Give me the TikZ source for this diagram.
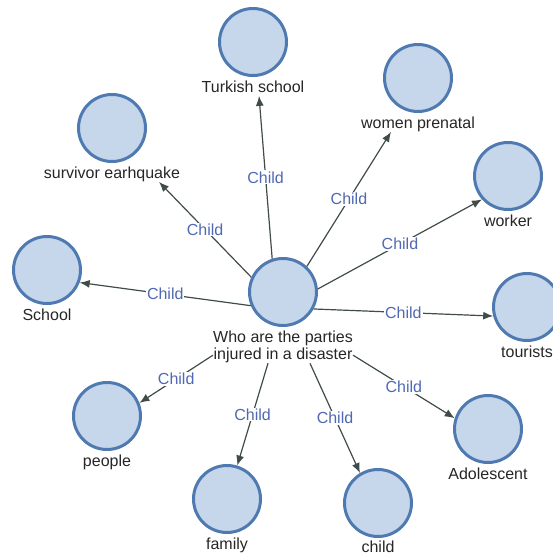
\documentclass[tikz,border=0pt]{standalone}
\usepackage{fontspec}
\setmainfont{Liberation Sans}
\usetikzlibrary{arrows.meta,positioning}

\definecolor{topicfill}{HTML}{C6D6EB}
\definecolor{topicline}{HTML}{4F7AB1}
\definecolor{linkgray}{HTML}{3F4C48}
\definecolor{relblue}{HTML}{4F69B3}

\begin{document}
\begin{tikzpicture}[
    x=1pt, y=-1pt,
    font=\fontsize{16}{17}\selectfont,
    topic/.style={circle, draw=topicline, line width=3pt, fill=topicfill,
        minimum size=67pt, inner sep=0pt},
    caption/.style={inner sep=0pt, text height=12pt, text depth=3.5pt, text=black!85},
    link/.style={-{Latex[length=10pt,width=8pt]}, line width=1.2pt, draw=linkgray},
    rel/.style={midway, fill=white, inner sep=1pt, text=relblue}
]
\useasboundingbox (0,0) rectangle (552,559);

\node[topic] (hub) at (283,292) {};
\node[below=4pt of hub, inner sep=0pt, align=center, text=black!85] (hubtext)
    {Who are the parties\\injured in a disaster};

\node[topic] (turkish) at (253,42) {};
\node[caption, below=3pt of turkish] (turkishlab) {Turkish school};
\node[topic] (survivor) at (112,128) {};
\node[caption, below=3pt of survivor] (survivorlab) {survivor earhquake};
\node[topic] (women) at (418,78) {};
\node[caption, below=3pt of women] (womenlab) {women prenatal};
\node[topic] (worker) at (508,176) {};
\node[caption, below=3pt of worker] (workerlab) {worker};
\node[topic] (school) at (47,270) {};
\node[caption, below=3pt of school] (schoollab) {School};
\node[topic] (tourists) at (527,307) {};
\node[caption, below=3pt of tourists] (touristslab) {tourists};
\node[topic] (people) at (107,416) {};
\node[caption, below=3pt of people] (peoplelab) {people};
\node[topic] (family) at (227,499) {};
\node[caption, below=3pt of family] (familylab) {family};
\node[topic] (kid) at (378,503) {};
\node[caption, below=2pt of kid] (kidlab) {child};
\node[topic] (adol) at (488,429) {};
\node[caption, below=3pt of adol] (adollab) {Adolescent};

\draw[link] (hub.108) -- node[rel] {Child} ([xshift=6pt]turkishlab.south);
\draw[link] (hub.155) -- node[rel] {Child} ([xshift=47pt]survivorlab.south);
\draw[link] (hub.47) -- node[rel] {Child} ([xshift=-27pt]womenlab.south);
\draw[link] (hub.5) -- node[rel] {Child} (worker.222);
\draw[link] (hub.203) -- node[rel] {Child} (school.-21);
\draw[link] (hub.-29) -- node[rel] {Child} (tourists.195);
\draw[link] ([yshift=-8pt]hubtext.west) -- node[rel] {Child} (people.22);
\draw[link] ([xshift=-15pt]hubtext.south) -- node[rel] {Child} (family.73);
\draw[link] ([xshift=27pt]hubtext.south) -- node[rel] {Child} (kid.121);
\draw[link] ([yshift=-8pt]hubtext.east) -- node[rel] {Child} (adol.162);

\end{tikzpicture}
\end{document}
